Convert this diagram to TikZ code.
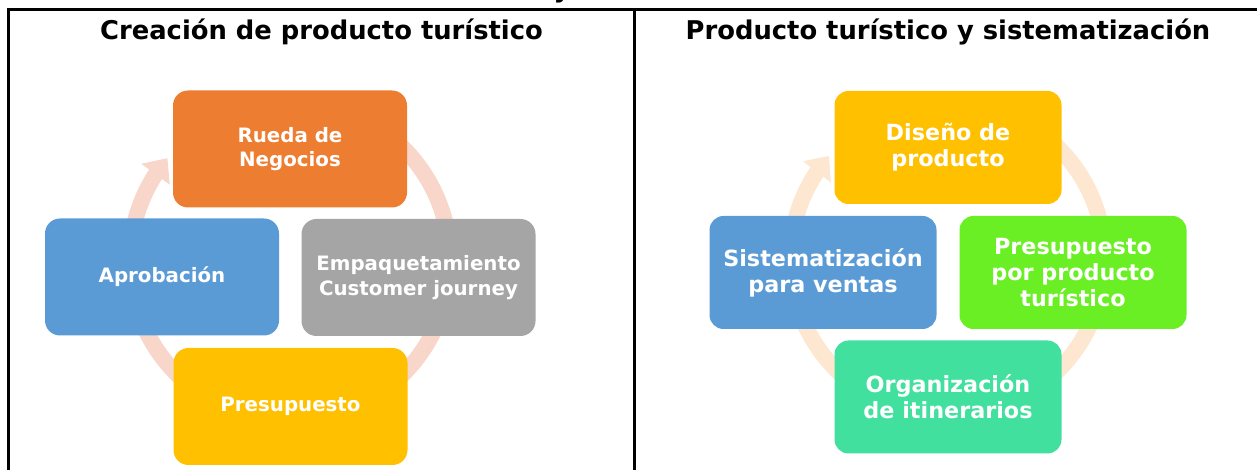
\documentclass[tikz,border=0pt]{standalone}
\usepackage{fontspec}
\setmainfont{DejaVu Sans}
\usetikzlibrary{arrows.meta,bending}
\definecolor{cOrange}{HTML}{ED7D31}
\definecolor{cBlue}{HTML}{5B9BD5}
\definecolor{cGray}{HTML}{A5A5A5}
\definecolor{cYellow}{HTML}{FFC000}
\definecolor{cGreen}{HTML}{6AEF25}
\definecolor{cTeal}{HTML}{42E09E}
\definecolor{cRingL}{HTML}{F8D6CA}
\definecolor{cRingR}{HTML}{FEE7D0}
\tikzset{
  frameline/.style={line width=2.5pt, black},
  titletext/.style={font=\fontsize{25.8}{30}\selectfont\bfseries, anchor=base, inner sep=0pt},
  lbox/.style={rounded corners=15pt, minimum width=234pt, minimum height=117pt, inner sep=0pt,
    text=white, align=center, font=\fontsize{19.8}{24.5}\selectfont\bfseries},
  rbox/.style={rounded corners=14pt, minimum width=227pt, minimum height=113pt, inner sep=0pt,
    text=white, align=center, font=\fontsize{22.3}{26}\selectfont\bfseries},
  ring/.style={line width=16pt, -{Triangle[width=34pt,length=20pt,flex]}},
}
\begin{document}
\begin{tikzpicture}[x=1pt,y=1pt]
\useasboundingbox (0,0) rectangle (1257,470);
% frame
\draw[frameline] (8.7,0) -- (8.7,460.3) -- (1257,460.3);
\draw[frameline] (634.7,0) -- (634.7,460.3);
% cut-off letter above the frame
\node[titletext] (ycut) at (562,472) {y};
% titles
\node[titletext] (t1) at (321.5,430.5) {Creación de producto turístico};
\node[titletext] (t2) at (948,430.5) {Producto turístico y sistematización};
% rings
\coordinate (cL) at (290,209);
\coordinate (cR) at (947.5,211);
\draw[ring, cRingL] (cL) ++(100:160) arc[start angle=100, end angle=-220, radius=160];
\draw[ring, cRingR] (cR) ++(100:157) arc[start angle=100, end angle=-221, radius=157];
% left boxes
\node[lbox, fill=cOrange] (rueda) at (290,321) {Rueda de\\Negocios};
\node[lbox, fill=cBlue] (aprob) at (162,193) {Aprobación};
\node[lbox, fill=cGray] (empaq) at (418.5,192.5) {Empaquetamiento\\Customer journey};
\node[lbox, fill=cYellow] (presu) at (290.5,63.5) {Presupuesto};
% right boxes
\node[rbox, fill=cYellow] (disen) at (948,322.5) {Diseño de\\producto};
\node[rbox, fill=cBlue] (siste) at (823,197.5) {Sistematización\\para ventas};
\node[rbox, fill=cGreen] (presp) at (1073,197.5) {Presupuesto\\por producto\\turístico};
\node[rbox, fill=cTeal] (organ) at (948,73) {Organización\\de itinerarios};
\end{tikzpicture}
\end{document}
